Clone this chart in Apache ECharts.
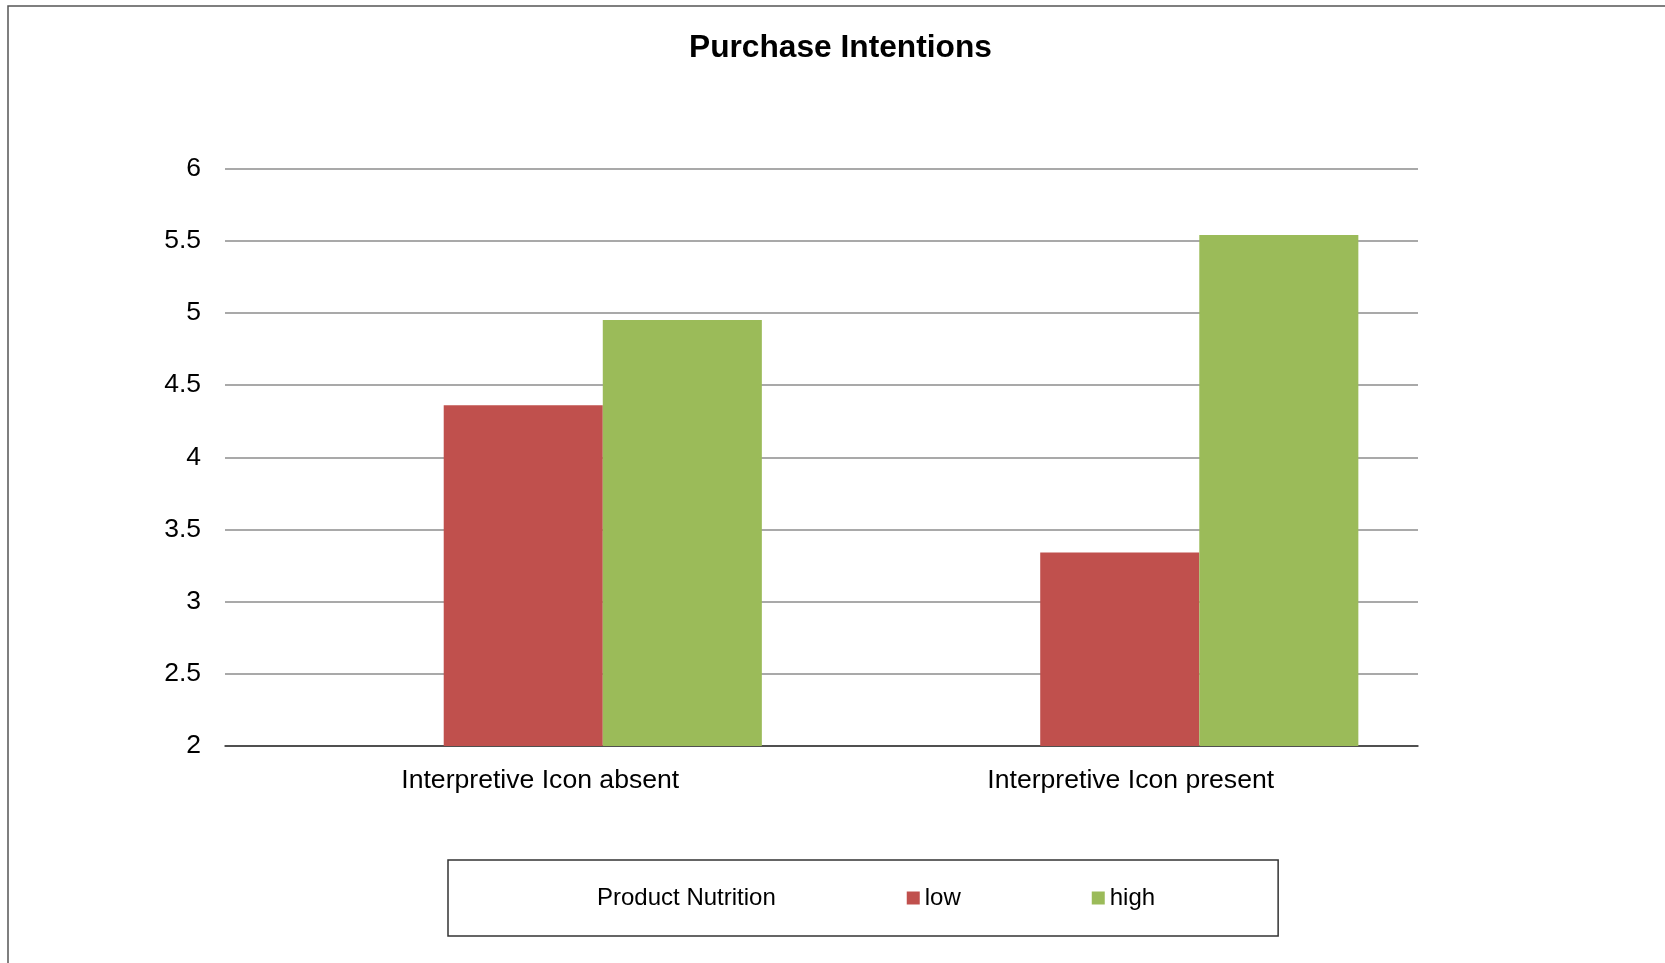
<!DOCTYPE html>
<html style="height: 100%">
<head>
  <meta charset="utf-8">
  <title>Purchase Intentions</title>
</head>
<body style="height: 100%; margin: 0; background: #fff">
<div id="container" style="width: 1665px; height: 963px"></div>
<script type="text/javascript" src="https://cdn.jsdelivr.net/npm/echarts@6/dist/echarts.min.js"></script>
<script type="text/javascript">
  // data
  let categories = ['Interpretive Icon absent', 'Interpretive Icon present']
  let seriesNames = ['Product Nutrition', 'low', 'high']
  // the first series in the source chart is empty, it only reserves a slot
  let emptyValues = ['-', '-']
  let lowValues = [4.36, 3.34]
  let highValues = [4.95, 5.54]
  let colors = ['rgba(0,0,0,0)', '#C0504D', '#9BBB59']

  let font = 'Liberation Sans, Arial, sans-serif'

  let dom = document.getElementById('container')
  let myChart = echarts.init(dom)

  // labels in the source sit a bit right of the category centres
  let labelShift = [34, 22]
  let categoryData = categories.map((c, i) => ({
    value: c,
    textStyle: { padding: [0, 0, 0, labelShift[i]] }
  }))

  let option = {
    animation: false,
    backgroundColor: '#fff',
    title: {
      text: 'Purchase Intentions',
      left: 684,
      top: 27,
      textStyle: { fontFamily: font, fontSize: 31.7, fontWeight: 'bold', color: '#000' }
    },
    // outer frame of the chart, cut off on right and bottom
    graphic: [{
      type: 'rect',
      shape: { x: 8, y: 6, width: 2000, height: 2000 },
      style: { fill: null, stroke: '#555', lineWidth: 1.5 },
      silent: true
    }],
    legend: {
      data: [
        { name: seriesNames[0], icon: 'none' },
        { name: seriesNames[1], icon: 'rect' },
        { name: seriesNames[2], icon: 'rect' }
      ],
      left: 448,
      top: 860,
      padding: [26, 123, 26, 131],
      itemWidth: 13,
      itemHeight: 13,
      itemGap: 131,
      borderColor: '#333',
      borderWidth: 1.5,
      selectedMode: false,
      textStyle: { fontFamily: font, fontSize: 24, color: '#000' }
    },
    grid: { left: 225, right: 247, top: 168.5, bottom: 217 },
    xAxis: {
      type: 'category',
      data: categoryData,
      axisTick: { show: false },
      axisLine: { lineStyle: { color: '#333', width: 1.5 } },
      axisLabel: { fontFamily: font, fontSize: 26.6, color: '#000', margin: 21 }
    },
    yAxis: {
      type: 'value',
      min: 2,
      max: 6,
      interval: 0.5,
      axisLine: { show: false },
      axisTick: { show: false },
      splitLine: { lineStyle: { color: '#8c8c8c', width: 1.5 } },
      axisLabel: { fontFamily: font, fontSize: 26.5, color: '#000', margin: 24 }
    },
    series: [
      { name: seriesNames[0], type: 'bar', data: emptyValues, itemStyle: { color: colors[0] }, barGap: 0, barCategoryGap: '20%' },
      { name: seriesNames[1], type: 'bar', data: lowValues, itemStyle: { color: colors[1] }, barGap: 0, barCategoryGap: '20%' },
      { name: seriesNames[2], type: 'bar', data: highValues, itemStyle: { color: colors[2] }, barGap: 0, barCategoryGap: '20%' }
    ]
  }

  myChart.setOption(option, true)
</script>
</body>
</html>
